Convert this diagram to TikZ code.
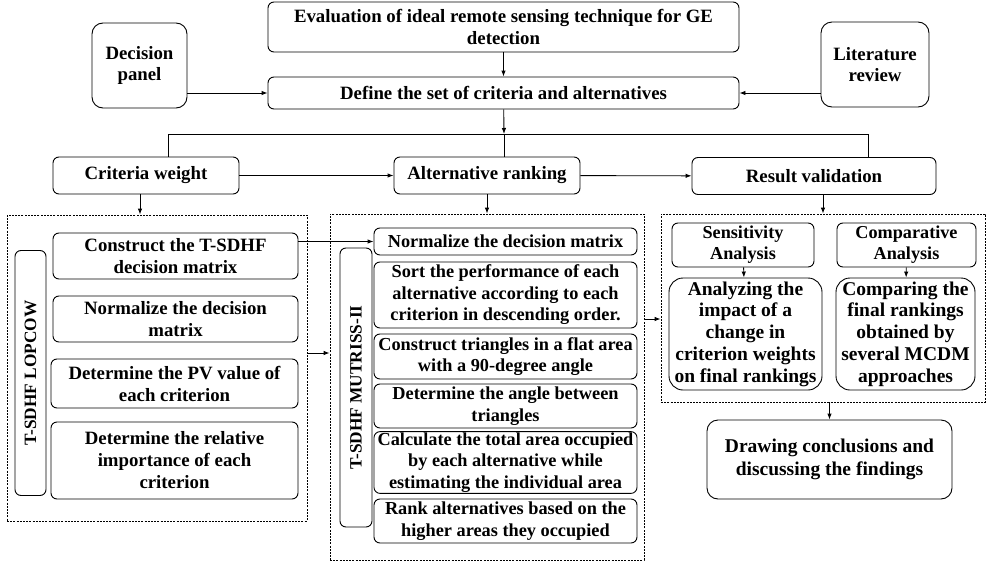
\documentclass[tikz,border=0pt]{standalone}
\usepackage{fontspec}
\setmainfont{Liberation Serif}[BoldFont={Liberation Serif Bold}]
\usepackage{tikz}
\usetikzlibrary{arrows.meta,positioning}

\begin{document}
\begin{tikzpicture}[x=1pt, y=-1pt,
    box/.style = {draw, line width=0.9pt, rounded corners=6pt, align=center, inner sep=1pt,
                  font=\fontsize{18.8}{22}\selectfont\bfseries},
    step box/.style = {box, font=\fontsize{18.3}{21.5}\selectfont\bfseries},
    bigbox/.style = {box, rounded corners=11pt},
    small/.style = {box, font=\fontsize{18.2}{21}\selectfont\bfseries},
    frame/.style = {draw, line width=0.8pt, dash pattern=on 2pt off 1.2pt, inner sep=0pt},
    side/.style = {box, rotate=90, font=\fontsize{17.3}{20}\selectfont\bfseries},
    arr/.style = {-{Latex[length=6pt,width=4.5pt]}, line width=0.9pt},
    ln/.style = {line width=0.9pt}]
    \useasboundingbox (0,0) rectangle (986,565);
    % top part
    \node[box, minimum width=471pt, minimum height=50pt] (goal) at (503.5,27)
        {Evaluation of ideal remote sensing technique for GE\\detection};
    \node[box, minimum width=471pt, minimum height=32pt] (define) at (503.5,93)
        {Define the set of criteria and alternatives};
    \node[bigbox, minimum width=95pt, minimum height=85pt, font=\fontsize{18.8}{21}\selectfont\bfseries] (panel) at (139.5,65.5)
        {Decision\\panel};
    \node[bigbox, minimum width=108pt, minimum height=85pt, font=\fontsize{18.8}{21}\selectfont\bfseries] (litrev) at (875,64.5)
        {Literature\\review};
    % three stages
    \node[box, minimum width=186pt, minimum height=37pt] (weight) at (146,175.5) {Criteria weight};
    \node[box, minimum width=186pt, minimum height=37pt] (ranking) at (487,175.5) {Alternative ranking};
    \node[box, minimum width=244pt, minimum height=37pt] (valid) at (814,176) {Result validation};
    \coordinate (hub) at (504,134);
    \coordinate (hubL) at (168,134);
    \coordinate (hubR) at (868,134);
    % LOPCOW
    \node[frame, minimum width=300pt, minimum height=306pt] (lframe) at (157,368) {};
    \node[side, minimum width=245pt, minimum height=31pt] (llabel) at (30.5,373) {T-SDHF LOPCOW};
    \node[box, minimum width=245pt, minimum height=46pt] (l1) at (175.5,256) {Construct the T-SDHF\\decision matrix};
    \node[box, minimum width=245pt, minimum height=46pt] (l2) at (175.5,319) {Normalize the decision\\matrix};
    \node[box, minimum width=247pt, minimum height=49pt] (l3) at (174.5,383.5) {Determine the PV value of\\each criterion};
    \node[box, minimum width=247pt, minimum height=77pt] (l4) at (174.5,460.5) {Determine the relative\\importance of each\\criterion};
    % MUTRISS
    \node[frame, minimum width=314pt, minimum height=346pt] (mframe) at (487,387) {};
    \node[side, minimum width=279pt, minimum height=32pt] (mlabel) at (356,387.5) {T-SDHF MUTRISS-II};
    \node[step box, minimum width=263pt, minimum height=27pt] (m1) at (505.5,241.5) {Normalize the decision matrix};
    \node[step box, minimum width=263pt, minimum height=66pt] (m2) at (505.5,295) {Sort the performance of each\\alternative according to each\\criterion in descending order.};
    \node[step box, minimum width=263pt, minimum height=45pt] (m3) at (505.5,356.5) {Construct triangles in a flat area\\with a 90-degree angle};
    \node[step box, minimum width=263pt, minimum height=44pt] (m4) at (505.5,406) {Determine the angle between\\triangles};
    \node[step box, minimum width=263pt, minimum height=59pt] (m5) at (505.5,462.5) {Calculate the total area occupied\\by each alternative while\\estimating the individual area};
    \node[step box, minimum width=263pt, minimum height=44pt] (m6) at (505.5,521) {Rank alternatives based on the\\higher areas they occupied};
    % validation
    \node[frame, minimum width=324pt, minimum height=188pt] (rframe) at (823,308) {};
    \node[small, minimum width=142pt, minimum height=44pt] (sens) at (743,245) {Sensitivity\\Analysis};
    \node[small, minimum width=139pt, minimum height=44pt] (comp) at (906.5,245) {Comparative\\Analysis};
    \node[bigbox, minimum width=153pt, minimum height=112pt, rounded corners=14pt, font=\fontsize{19.5}{21.7}\selectfont\bfseries] (sensres) at (745.5,334)
        {Analyzing the\\impact of a\\change in\\criterion weights\\on final rankings};
    \node[bigbox, minimum width=139pt, minimum height=112pt, rounded corners=14pt, font=\fontsize{19.5}{21.7}\selectfont\bfseries] (compres) at (905.5,334)
        {Comparing the\\final rankings\\obtained by\\several MCDM\\approaches};
    \node[bigbox, minimum width=245pt, minimum height=79pt, font=\fontsize{19.5}{22.5}\selectfont\bfseries] (concl) at (829.5,459.5)
        {Drawing conclusions and\\discussing the findings};
    % connectors
    \draw[arr] (goal) -- (define);
    \draw[arr] (panel.east |- define.west) -- (define.west);
    \draw[arr] (litrev.west |- define.east) -- (define.east);
    \draw[arr] (define) -- (hub);
    \draw[ln] (hubL |- weight.north) -- (hubL) -- (hubR) -- (hubR |- valid.north);
    \draw[ln] (hub) -- (hub |- ranking.north);
    \draw[arr] (weight) -- (ranking);
    \draw[arr] (ranking) -- (valid);
    \draw[arr] ([xshift=-6pt]weight.south) -- ([xshift=-6pt]weight.south |- lframe.north);
    \draw[arr] (ranking) -- (mframe);
    \draw[arr] (rframe.north |- valid.south) -- (rframe.north);
    \draw[arr] (l1.east |- m1.west) -- (m1.west);
    \coordinate (lout) at ([yshift=15pt]lframe.east);
    \draw[arr] (lout) -- (lout -| mframe.west);
    \coordinate (mout) at ([yshift=68pt]mframe.east);
    \draw[arr] (mout) -- (mout -| rframe.west);
    \draw[arr] (sens) -- (sensres);
    \draw[arr] (comp) -- (compres);
    \draw[arr] (concl.north |- rframe.south) -- (concl.north);
\end{tikzpicture}
\end{document}
